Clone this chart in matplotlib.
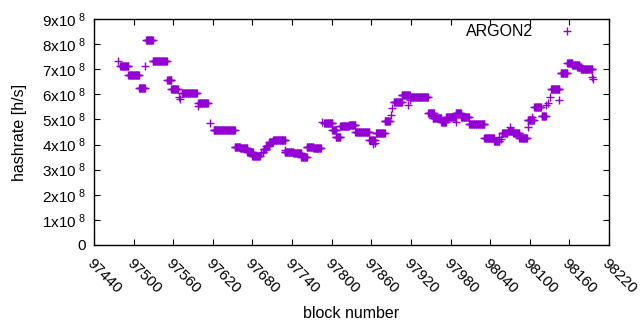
import numpy as np
import matplotlib
matplotlib.use("Agg")
import matplotlib.pyplot as plt
from matplotlib.ticker import FixedLocator, FuncFormatter

plt.rcParams['font.family'] = ['Liberation Sans', 'DejaVu Sans']
plt.rcParams['mathtext.fontset'] = 'custom'
plt.rcParams['mathtext.rm'] = 'Liberation Sans'
plt.rcParams['mathtext.it'] = 'Liberation Sans'
plt.rcParams['mathtext.bf'] = 'Liberation Sans'

# Runs of blocks with (roughly) constant hashrate: start block, end block, hashrate [1e8 h/s]
run_start = [97476, 97480, 97492, 97508, 97517, 97519, 97529, 97551, 97557, 97568, 97570,
             97574, 97598, 97598, 97615, 97621, 97653, 97661, 97672, 97680, 97693, 97696,
             97697, 97701, 97705, 97711, 97730, 97729, 97742, 97754, 97762, 97772, 97786,
             97789, 97801, 97806, 97813, 97826, 97836, 97857, 97863, 97866, 97867, 97880,
             97890, 97891, 97894, 97906, 97915, 97918, 97920, 97946, 97953, 97966, 97973,
             97988, 97988, 97996, 98008, 98031, 98046, 98053, 98056, 98058, 98070, 98067,
             98075, 98084, 98097, 98097, 98104, 98107, 98118, 98125, 98127, 98131, 98132,
             98145, 98147, 98157, 98164, 98172, 98177, 98195, 98196]
run_end = [97476, 97492, 97508, 97517, 97517, 97529, 97550, 97557, 97567, 97568, 97570,
           97596, 97598, 97612, 97615, 97653, 97661, 97672, 97681, 97691, 97693, 97696,
           97701, 97705, 97711, 97730, 97730, 97742, 97754, 97762, 97772, 97784, 97786,
           97801, 97807, 97813, 97826, 97836, 97857, 97865, 97863, 97866, 97880, 97888,
           97890, 97891, 97906, 97918, 97915, 97918, 97946, 97955, 97966, 97973, 97988,
           97988, 97996, 98008, 98031, 98046, 98054, 98053, 98056, 98066, 98070, 98075,
           98084, 98096, 98097, 98106, 98104, 98117, 98124, 98125, 98127, 98131, 98145,
           98145, 98157, 98164, 98175, 98178, 98195, 98195, 98196]
run_value = [7.31, 7.13, 6.76, 6.24, 7.13, 8.15, 7.33, 6.56, 6.21, 5.90, 5.81,
             6.04, 5.53, 5.65, 4.87, 4.57, 3.92, 3.88, 3.70, 3.56, 3.66, 3.72,
             3.82, 3.96, 4.10, 4.19, 3.78, 3.72, 3.67, 3.50, 3.92, 3.85, 4.91,
             4.85, 4.59, 4.30, 4.74, 4.78, 4.50, 4.18, 4.02, 4.05, 4.46, 4.94,
             5.18, 5.47, 5.68, 5.96, 5.58, 5.77, 5.91, 5.26, 5.05, 4.91, 5.09,
             4.89, 5.25, 5.11, 4.82, 4.25, 4.15, 4.30, 4.22, 4.46, 4.69, 4.52,
             4.46, 4.25, 4.71, 4.98, 5.11, 5.48, 5.14, 5.58, 5.64, 5.88, 6.20,
             5.77, 6.84, 7.24, 7.17, 7.10, 7.00, 6.70, 6.62]

x_ticks = list(range(97440, 98221, 60))
y_ticks = list(range(0, 10))

blocks = np.concatenate([np.arange(s, e + 1) for s, e in zip(run_start, run_end)])
rates = np.concatenate([np.full(e - s + 1, v * 1e8) for s, e, v in zip(run_start, run_end, run_value)])

color = '#9400D3'
fig = plt.figure(figsize=(6.4, 3.3), dpi=100)
ax = fig.add_axes([94 / 640, 1 - 245 / 330, (609 - 94) / 640, (245 - 19) / 330])

ax.plot(blocks, rates, linestyle='none', marker='+', markersize=5.2,
        markeredgewidth=1.0, color=color, label='ARGON2')

ax.set_xlim(97440, 98220)
ax.set_ylim(0, 9e8)
ax.xaxis.set_major_locator(FixedLocator(x_ticks))
ax.yaxis.set_major_locator(FixedLocator([v * 1e8 for v in y_ticks]))

def yfmt(v, pos):
    n = int(round(v / 1e8))
    if n == 0:
        return '0'
    return r'%dx10$^{\ 8}$' % n

ax.yaxis.set_major_formatter(FuncFormatter(yfmt))
ax.tick_params(direction='in', length=4.5, width=0.8, top=True, right=True,
               labelsize=11, colors='black')
ax.tick_params(axis='y', pad=6)
for lab in ax.get_xticklabels():
    lab.set_rotation(-45)
    lab.set_ha('left')
    lab.set_va('top')
    lab.set_rotation_mode('anchor')
ax.tick_params(axis='x', pad=8)
for s in ax.spines.values():
    s.set_linewidth(1.0)

ax.set_xlabel('block number', fontsize=11.5, labelpad=7)
ax.set_ylabel('hashrate [h/s]', fontsize=11.5, labelpad=11)

leg = ax.legend(loc='center right', bbox_to_anchor=((587 - 94) / 515, (245 - 32) / 226),
                frameon=False, fontsize=11.5, markerfirst=False,
                handlelength=2.5, borderaxespad=0, borderpad=0, handletextpad=0.9)

fig.savefig('out.png', dpi=100)
